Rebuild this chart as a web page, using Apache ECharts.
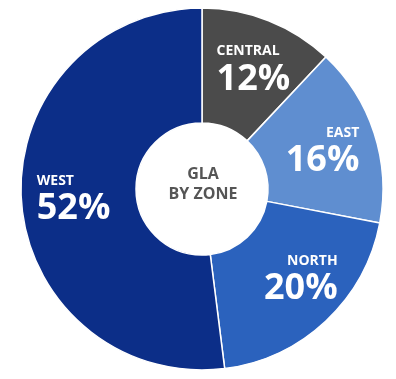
<!DOCTYPE html>
<html>
<head>
<meta charset="utf-8">
<script src="https://cdn.jsdelivr.net/npm/echarts@6/dist/echarts.min.js"></script>
<style>
html,body{margin:0;padding:0;background:#fff;}
#c{width:396px;height:379px;}
</style>
</head>
<body>
<div id="c"></div>
<script>
const zones = ['CENTRAL', 'EAST', 'NORTH', 'WEST'];
const shares = [12, 16, 20, 52];
const colors = ['#4b4b4b', '#5f8ed0', '#2b62bd', '#0c2e88'];
const centerLines = ['GLA', 'BY ZONE'];

const labelCfg = {
  CENTRAL: {w: 72, a: 'left', off: [4, 0]},
  EAST: {w: 74, a: 'right', off: [0, 3]},
  NORTH: {w: 84, a: 'right', off: [7, 0]},
  WEST: {w: 84, a: 'left', off: [3, 4]}
};

const data = zones.map((z, i) => {
  const c = labelCfg[z];
  return {
    name: z,
    value: shares[i],
    itemStyle: {color: colors[i]},
    label: {
      offset: c.off,
      rich: {
        n: {width: c.w, align: c.a, fontSize: 14, fontWeight: 'bold', color: '#fff', fontFamily: 'Open Sans', lineHeight: 16},
        v: {width: c.w, align: c.a, fontSize: 36, fontWeight: 'bold', color: '#fff', fontFamily: 'Open Sans', lineHeight: 40}
      }
    }
  };
});

const chart = echarts.init(document.getElementById('c'), null, {renderer: 'canvas'});
chart.setOption({
  backgroundColor: '#fff',
  animation: false,
  graphic: [{
    type: 'text',
    x: 203,
    y: 184,
    style: {
      text: centerLines.join('\n'),
      textAlign: 'center',
      textVerticalAlign: 'middle',
      fontSize: 16,
      fontWeight: 'bold',
      fontFamily: 'Open Sans',
      fill: '#555555',
      lineHeight: 20
    }
  }],
  series: [{
    type: 'pie',
    center: [202, 189],
    radius: [66, 181],
    startAngle: 90,
    clockwise: true,
    avoidLabelOverlap: false,
    itemStyle: {borderColor: '#ffffff', borderWidth: 1.5},
    label: {
      show: true,
      position: 'inside',
      formatter: p => '{n|' + p.name + '}\n{v|' + p.value + '%}'
    },
    labelLine: {show: false},
    emphasis: {disabled: true},
    data: data
  }]
});
</script>
</body>
</html>
